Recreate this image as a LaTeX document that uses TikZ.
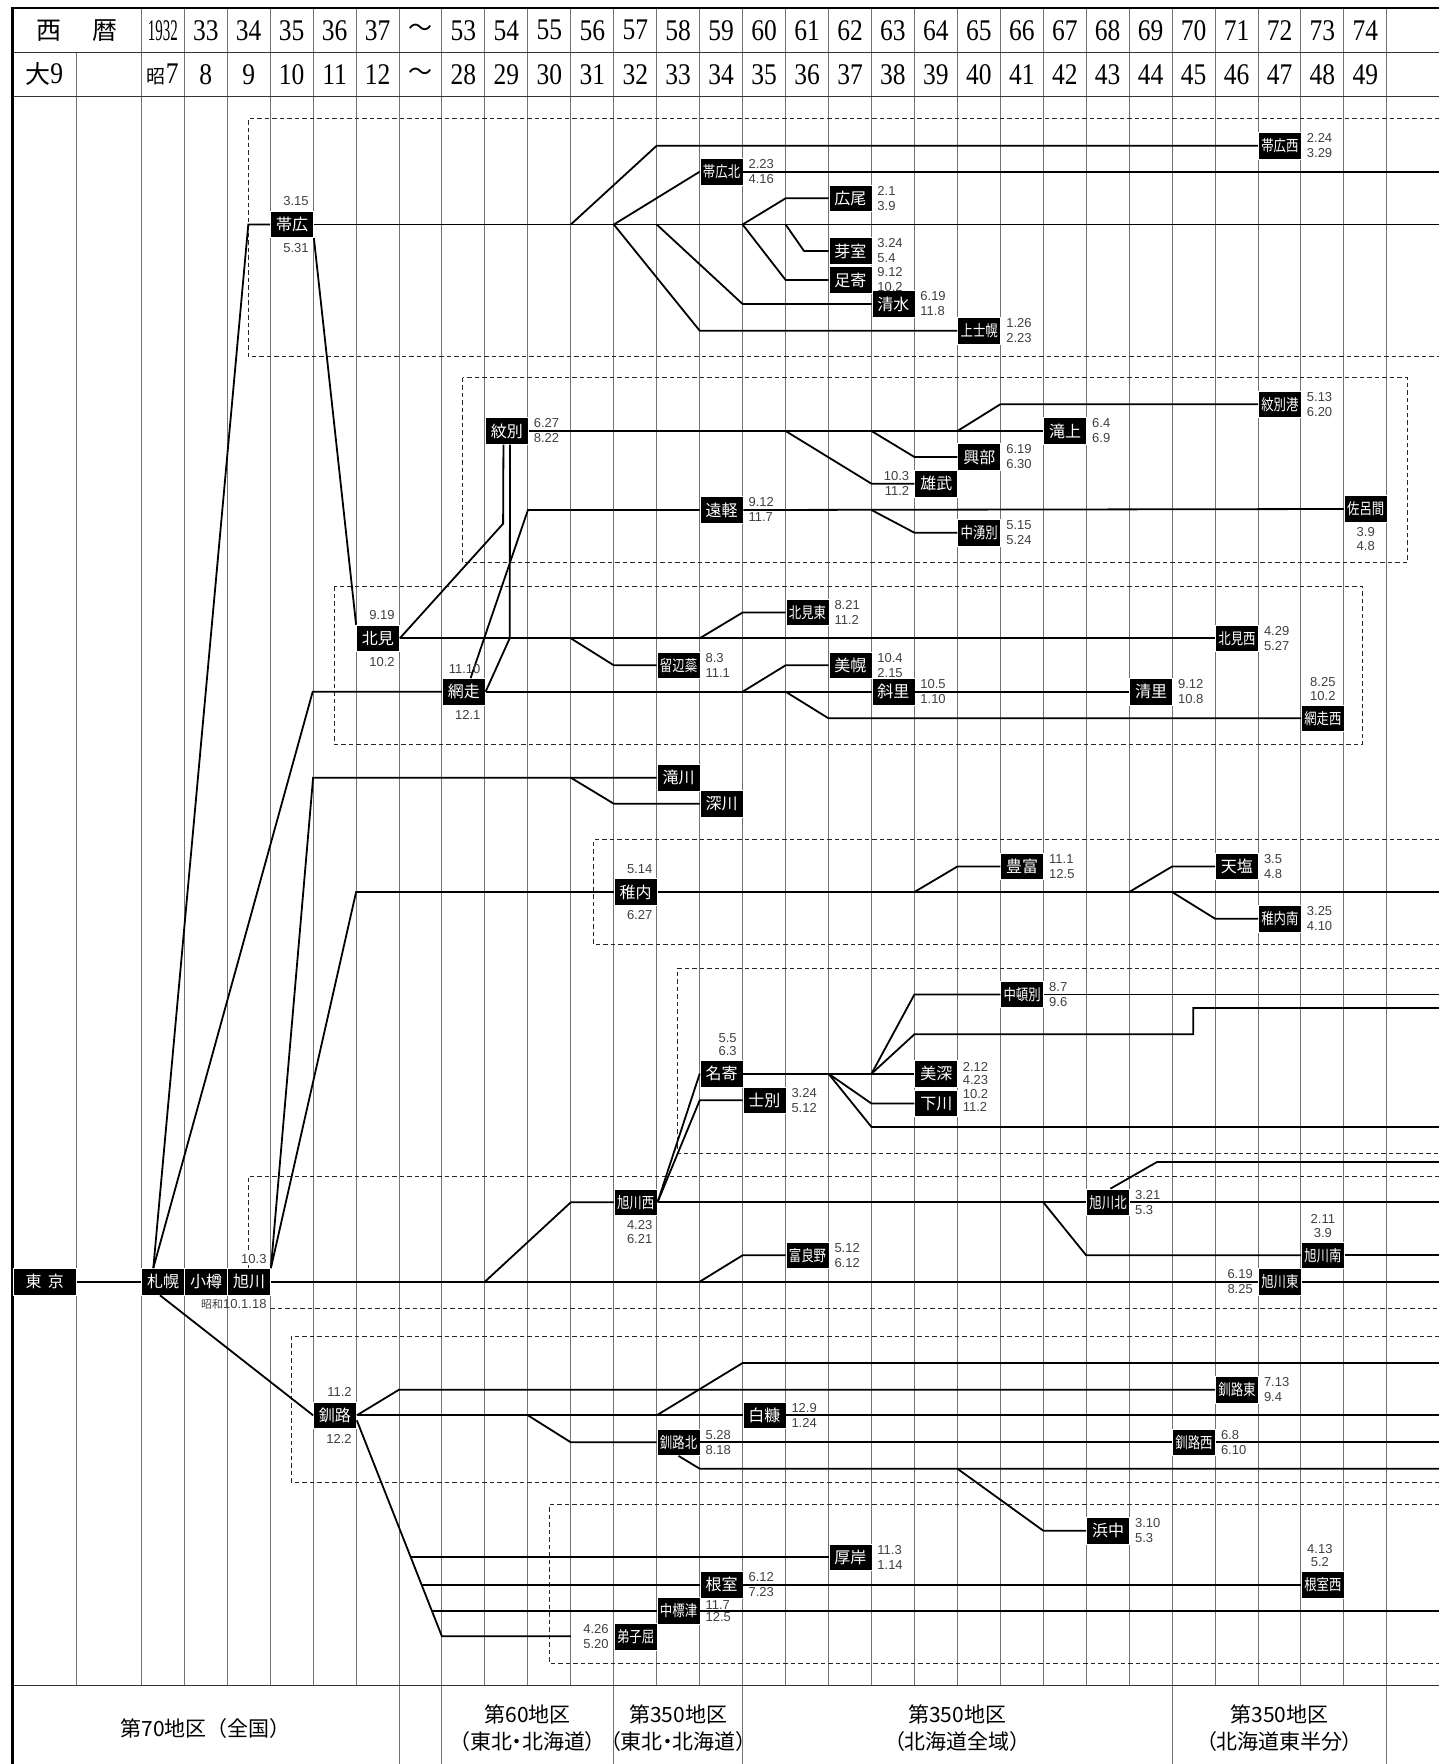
\documentclass[tikz,border=0pt]{standalone}
\usepackage{fontspec}
\usepackage{graphicx}
\newfontfamily\jp{Noto Sans CJK JP}
\newfontfamily\jpp[RawFeature=+palt]{Noto Sans CJK JP}
\newfontfamily\dtf{Liberation Sans}
\newfontfamily\hser{Liberation Serif}
\newcommand\tc[1]{\scalebox{0.8}[1]{\fontsize{15.5}{15.5}\selectfont #1}}
\newcommand\yr[1]{\scalebox{0.85}[1]{#1}}
\tikzset{
  gridline/.style={line width=1pt, black!55},
  conn/.style={line width=1.8pt, black},
  dsh/.style={line width=1pt, black!85, dash pattern=on 4.5pt off 3pt},
  stn/.style={fill=black, draw=white, line width=0.7pt, text=white, minimum width=43pt, minimum height=26.5pt, inner sep=0pt, anchor=west, font=\jp\fontsize{16}{16}\selectfont},
  dt/.style={font=\dtf\fontsize{13}{13}\selectfont, text=black!75, inner sep=0pt},
  hd/.style={font=\hser\fontsize{30}{30}\selectfont, inner sep=0pt},
  ft/.style={font=\jpp\fontsize{21}{26.6}\selectfont, align=center, inner sep=0pt},
}
% date helpers
\newcommand\dR[3]{\node[dt,anchor=west] (#1-a) at ([xshift=5pt,yshift=7.5pt]#1.east) {#2};\node[dt,anchor=west] (#1-b) at ([xshift=5pt,yshift=-7.5pt]#1.east) {#3};}
\newcommand\dL[3]{\node[dt,anchor=east] (#1-a) at ([xshift=-5pt,yshift=7.5pt]#1.west) {#2};\node[dt,anchor=east] (#1-b) at ([xshift=-5pt,yshift=-7.5pt]#1.west) {#3};}
\newcommand\dS[3]{\node[dt,anchor=east] (#1-a) at ([xshift=-5pt,yshift=23pt]#1.east) {#2};\node[dt,anchor=east] (#1-b) at ([xshift=-5pt,yshift=-23.5pt]#1.east) {#3};}
\newcommand\dA[4][0pt]{\node[dt] (#2-a) at ([xshift=#1,yshift=36pt]#2.center) {#3};\node[dt] (#2-b) at ([xshift=#1,yshift=22.5pt]#2.center) {#4};}
\newcommand\dB[4][0pt]{\node[dt] (#2-a) at ([xshift=#1,yshift=-23pt]#2.center) {#3};\node[dt] (#2-b) at ([xshift=#1,yshift=-37pt]#2.center) {#4};}
\begin{document}
\begin{tikzpicture}[x=1pt,y=-1pt]
\useasboundingbox (0,0) rectangle (1439,1764);
\fill[white] (0,0) rectangle (1439,1764);

% ---------- grid ----------
\foreach \i in {0,...,29} \draw[gridline] ({141.3+42.95*\i},8.3) -- ({141.3+42.95*\i},1685.7);
\draw[gridline] (76,52.3) -- (76,1685.7);
\foreach \x in {399.0,441.9,613.8,742.6,1172.1,1386.9} \draw[gridline] (\x,1685.7) -- (\x,1764);
\draw[line width=1pt, black!80] (12.7,52.3) -- (1439,52.3);
\draw[line width=1pt, black!80] (12.7,96.3) -- (1439,96.3);
\draw[line width=1pt, black!80] (12.7,1685.7) -- (1439,1685.7);
\draw[line width=2.2pt] (12.7,8.3) -- (1439,8.3);
\draw[line width=2.6pt] (12.7,7.2) -- (12.7,1764);

% ---------- header ----------
\node[hd] (h-sei) at (49,30.3) {\jp\fontsize{25}{25}\selectfont 西};
\node[hd] (h-reki) at (105,30.3) {\jp\fontsize{25}{25}\selectfont 暦};
\node[hd] (h-1932) at (162.8,30.3) {\scalebox{0.5}[1]{1932}};
\foreach \i in {1,...,5} {\pgfmathtruncatemacro\yy{32+\i}\node[hd] (ha\i) at ({162.8+42.95*\i},30.3) {\yr{\yy}};}
\foreach \i in {7,...,28} {\pgfmathtruncatemacro\yy{46+\i}\node[hd] (ha\i) at ({162.8+42.95*\i},30.3) {\yr{\yy}};}
\node[hd] (ha6) at ({162.8+42.95*6},30.3) {\jp\fontsize{24}{24}\selectfont ～};
\node[hd] (h-tai) at (44.3,74.3) {{\jp\fontsize{25}{25}\selectfont 大}\yr{9}};
\node[hd] (h-sho) at (162.8,74.3) {{\jp\fontsize{19}{19}\selectfont 昭}\yr{7}};
\foreach \i in {1,...,5} {\pgfmathtruncatemacro\yy{7+\i}\node[hd] (hb\i) at ({162.8+42.95*\i},74.3) {\yr{\yy}};}
\foreach \i in {7,...,28} {\pgfmathtruncatemacro\yy{21+\i}\node[hd] (hb\i) at ({162.8+42.95*\i},74.3) {\yr{\yy}};}
\node[hd] (hb6) at ({162.8+42.95*6},74.3) {\jp\fontsize{24}{24}\selectfont ～};

% ---------- footer ----------
\node[ft] (f1) at (205.7,1728) {\jp 第70地区（全国）};
\node[ft] (f2) at (527.8,1728) {第60地区\\（東北・北海道）};
\node[ft] (f3) at (678.2,1728) {第350地区\\（東北・北海道）};
\node[ft] (f4) at (957.3,1728) {第350地区\\（北海道全域）};
\node[ft] (f5) at (1279.5,1728) {第350地区\\（北海道東半分）};

% ---------- dashed groups ----------
\draw[dsh] (1439,118.3) -- (248.3,118.3) -- (248.3,356.7) -- (1439,356.7);
\draw[dsh] (462.7,377.7) rectangle (1407.3,562.7);
\draw[dsh] (334.3,586) rectangle (1362.3,744.3);
\draw[dsh] (1439,839.3) -- (593.7,839.3) -- (593.7,944.3) -- (1439,944.3);
\draw[dsh] (1439,968) -- (677.7,968) -- (677.7,1153) -- (1439,1153);
\draw[dsh] (1439,1176) -- (248.3,1176) -- (248.3,1250);
\draw[dsh] (248.3,1265) -- (248.3,1268.5);
\draw[dsh] (270.2,1308) -- (1439,1308);
\draw[dsh] (1439,1336.3) -- (291,1336.3) -- (291,1482) -- (1439,1482);
\draw[dsh] (1439,1504.7) -- (549,1504.7) -- (549,1663) -- (1439,1663);

% ---------- stations ----------
\node[stn, minimum width=63.3pt] (tokyo) at (12.7,1281.7) {東\hspace{0.4em}京};
\node[stn] (sapporo) at (141.3,1281.7) {札幌};
\node[stn] (otaru) at (184.3,1281.7) {小樽};
\node[stn] (asahikawa) at (227.2,1281.7) {旭川};
\node[stn] (obihiro) at (270.2,224.5) {帯広};
\node[stn] (kitami) at (356.1,638.3) {北見};
\node[stn] (abashiri) at (441.9,691.7) {網走};
\node[stn] (monbetsu) at (484.9,431) {紋別};
\node[stn] (kushiro) at (313.1,1415.3) {釧路};
\node[stn] (obihirokita) at (699.7,171.7) {\tc{帯広北}};
\node[stn] (obihironishi) at (1258.0,145.7) {\tc{帯広西}};
\node[stn] (hiroo) at (828.5,198.3) {広尾};
\node[stn] (memuro) at (828.5,251) {芽室};
\node[stn] (ashoro) at (828.5,280) {足寄};
\node[stn] (shimizu) at (871.5,304) {清水};
\node[stn] (kamishihoro) at (957.4,330.7) {\tc{上士幌}};
\node[stn] (takinoue) at (1043.3,431) {滝上};
\node[stn] (monbetsuko) at (1258.0,404.3) {\tc{紋別港}};
\node[stn] (okoppe) at (957.4,457) {興部};
\node[stn] (oumu) at (914.4,483.7) {雄武};
\node[stn] (engaru) at (699.7,510) {遠軽};
\node[stn] (nakayubetsu) at (957.4,532.7) {\tc{中湧別}};
\node[stn] (saroma) at (1343.9,509) {\tc{佐呂間}};
\node[stn] (kitamihigashi) at (785.6,612.5) {\tc{北見東}};
\node[stn] (rubeshibe) at (656.7,665.3) {\tc{留辺蘂}};
\node[stn] (bihoro) at (828.5,665.3) {美幌};
\node[stn] (shari) at (871.5,691.7) {斜里};
\node[stn] (kiyosato) at (1129.2,691.7) {清里};
\node[stn] (kitaminishi) at (1215.1,638.3) {\tc{北見西}};
\node[stn] (abashirinishi) at (1301.0,718.3) {\tc{網走西}};
\node[stn] (takikawa) at (656.7,777.7) {滝川};
\node[stn] (fukagawa) at (699.7,803.7) {深川};
\node[stn] (wakkanai) at (613.8,892) {稚内};
\node[stn] (toyotomi) at (1000.3,866.5) {豊富};
\node[stn] (teshio) at (1215.1,866.5) {天塩};
\node[stn] (wakkanaiminami) at (1258.0,918.7) {\tc{稚内南}};
\node[stn] (nakatonbetsu) at (1000.3,994.5) {\tc{中頓別}};
\node[stn] (nayoro) at (699.7,1073.7) {名寄};
\node[stn] (shibetsu) at (742.6,1100.3) {士別};
\node[stn] (bifuka) at (914.4,1073.7) {美深};
\node[stn] (shimokawa) at (914.4,1103.5) {下川};
\node[stn] (asahikawanishi) at (613.8,1202.3) {\tc{旭川西}};
\node[stn] (asahikawakita) at (1086.2,1202.3) {\tc{旭川北}};
\node[stn] (asahikawaminami) at (1301.0,1255.3) {\tc{旭川南}};
\node[stn] (asahikawahigashi) at (1258.0,1281.7) {\tc{旭川東}};
\node[stn] (furano) at (785.6,1255.3) {\tc{富良野}};
\node[stn] (shiranuka) at (742.6,1415.3) {白糠};
\node[stn] (kushirokita) at (656.7,1442.3) {\tc{釧路北}};
\node[stn] (kushirohigashi) at (1215.1,1389.7) {\tc{釧路東}};
\node[stn] (kushironishi) at (1172.1,1442.3) {\tc{釧路西}};
\node[stn] (hamanaka) at (1086.2,1530.7) {浜中};
\node[stn] (akkeshi) at (828.5,1557.3) {厚岸};
\node[stn] (nemuro) at (699.7,1584.7) {根室};
\node[stn] (nemuronishi) at (1301.0,1584.7) {\tc{根室西}};
\node[stn] (nakashibetsu) at (656.7,1610.7) {\tc{中標津}};
\node[stn] (teshikaga) at (613.8,1637) {\tc{弟子屈}};

% ---------- connectors ----------
\draw[conn] (tokyo.east) -- (sapporo.west);
\draw[conn] (obihiro.west) -- (248.3,224.5) -- ([xshift=12pt]sapporo.north west);
\draw[conn] ([xshift=12pt]sapporo.north west) -- (312.7,691.7) -- (abashiri.west);
\draw[conn] (asahikawa.north east) -- (313.1,777.7) -- (takikawa.west);
\draw[conn] (asahikawa.north east) -- (356.1,892) -- (wakkanai.west);
\draw[conn] (obihiro.south east) -- (kitami.north west);
% obihiro group
\draw[conn] (obihiro.east) -- (1439,224.5);
\draw[conn] (570.8,224.5) -- (656.7,145.7) -- (obihironishi.west);
\draw[conn] (613.8,224.5) -- (obihirokita.west);
\draw[conn] (obihirokita.east) -- (1439,171.7);
\draw[conn] (613.8,224.5) -- (699.7,330.7) -- (kamishihoro.west);
\draw[conn] (656.7,224.5) -- (742.6,304) -- (shimizu.west);
\draw[conn] (742.6,224.5) -- (785.6,198.3) -- (hiroo.west);
\draw[conn] (742.6,224.5) -- (785.6,280) -- (ashoro.west);
\draw[conn] (785.6,224.5) -- (804,251) -- (memuro.west);
% monbetsu group
\draw[conn] (monbetsu.east) -- (takinoue.west);
\draw[conn] (957.4,431) -- (1000.3,404.3) -- (monbetsuko.west);
\draw[conn] (871.5,431) -- (914.4,457) -- (okoppe.west);
\draw[conn] (785.6,431) -- (871.5,483.7) -- (oumu.west);
\draw[conn] (kitami.east) -- (503.1,523.7) -- ([xshift=-3.3pt]monbetsu.south);
\draw[conn] ([xshift=3.3pt]monbetsu.south) -- (509.7,638.3) -- (abashiri.east);
\draw[conn] ([xshift=-15pt]abashiri.north east) -- (527.9,510) -- (engaru.west);
\draw[conn] (engaru.east) -- (saroma.west);
\draw[conn] (871.5,510) -- (914.4,532.7) -- (nakayubetsu.west);
% kitami group
\draw[conn] (kitami.east) -- (kitaminishi.west);
\draw[conn] (570.8,638.3) -- (613.8,665.3) -- (rubeshibe.west);
\draw[conn] (699.7,638.3) -- (742.6,612.5) -- (kitamihigashi.west);
\draw[conn] (abashiri.east) -- (shari.west);
\draw[conn] (shari.east) -- (kiyosato.west);
\draw[conn] (742.6,691.7) -- (785.6,665.3) -- (bihoro.west);
\draw[conn] (785.6,691.7) -- (828.5,718.3) -- (abashirinishi.west);
% takikawa
\draw[conn] (570.8,777.7) -- (613.8,803.7) -- (fukagawa.west);
% wakkanai group
\draw[conn] (wakkanai.east) -- (1439,892);
\draw[conn] (914.4,892) -- (957.4,866.5) -- (toyotomi.west);
\draw[conn] (1129.2,892) -- (1172.1,866.5) -- (teshio.west);
\draw[conn] (1172.1,892) -- (1215.1,918.7) -- (wakkanaiminami.west);
% asahikawa group
\draw[conn] (asahikawa.east) -- (asahikawahigashi.west);
\draw[conn] (asahikawahigashi.east) -- (1439,1281.7);
\draw[conn] (484.9,1281.7) -- (570.8,1202.3) -- (asahikawanishi.west);
\draw[conn] (asahikawanishi.east) -- (asahikawakita.west);
\draw[conn] (asahikawakita.east) -- (1439,1202.3);
\draw[conn] ([xshift=2.3pt]asahikawakita.north) -- (1157,1162) -- (1439,1162);
\draw[conn] (1043.3,1202.3) -- (1086.2,1255.3) -- (asahikawaminami.west);
\draw[conn] (asahikawaminami.east) -- (1439,1255.3);
\draw[conn] (699.7,1281.7) -- (742.6,1255.3) -- (furano.west);
% nayoro group
\draw[conn] (asahikawanishi.east) -- (nayoro.west);
\draw[conn] (asahikawanishi.east) -- (699.7,1100.3) -- (shibetsu.west);
\draw[conn] (nayoro.east) -- (bifuka.west);
\draw[conn] (828.5,1073.7) -- (871.5,1103.5) -- (shimokawa.west);
\draw[conn] (828.5,1073.7) -- (871.5,1127) -- (1439,1127);
\draw[conn] (871.5,1073.7) -- (914.4,994.5) -- (nakatonbetsu.west);
\draw[conn] (nakatonbetsu.east) -- (1439,994.5);
\draw[conn] (871.5,1073.7) -- (914.4,1034.3) -- (1193.3,1034.3) -- (1193.3,1008) -- (1439,1008);
% kushiro group
\draw[conn] ([xshift=18.7pt]sapporo.south west) -- (kushiro.west);
\draw[conn] (kushiro.east) -- (shiranuka.west);
\draw[conn] (shiranuka.east) -- (1439,1415.3);
\draw[conn] (kushiro.east) -- (399,1389.7) -- (kushirohigashi.west);
\draw[conn] (656.7,1415.3) -- (742.6,1363) -- (1439,1363);
\draw[conn] (527.9,1415.3) -- (570.8,1442.3) -- (kushirokita.west);
\draw[conn] (kushirokita.east) -- (kushironishi.west);
\draw[conn] (kushironishi.east) -- (1439,1442.3);
\draw[conn] (kushirokita.south) -- (699.7,1468.7) -- (1439,1468.7);
\draw[conn] (957.4,1468.7) -- (1043.3,1530.7) -- (hamanaka.west);
% nemuro group
\draw[conn] ([yshift=-5pt]kushiro.east) -- (441.9,1636.3) -- (570.8,1636.3);
\draw[conn] (410.4,1557.3) -- (akkeshi.west);
\draw[conn] (421.3,1584.7) -- (nemuro.west);
\draw[conn] (nemuro.east) -- (nemuronishi.west);
\draw[conn] (431.7,1610.7) -- (nakashibetsu.west);
\draw[conn] (nakashibetsu.east) -- (1439,1610.7);

% ---------- dates ----------
\node[dt,anchor=east] (asahikawa-a) at (266.7,1259.3) {10.3};
\node[dt,anchor=east] (asahikawa-b) at (266.7,1304.7) {{\jp\fontsize{11}{11}\selectfont 昭和}10.1.18};
\dS{obihiro}{3.15}{5.31}
\dS{kitami}{9.19}{10.2}
\dS{abashiri}{11.10}{12.1}
\dS{wakkanai}{5.14}{6.27}
\dS{kushiro}{11.2}{12.2}
\dR{monbetsu}{6.27}{8.22}
\dR{obihirokita}{2.23}{4.16}
\dR{obihironishi}{2.24}{3.29}
\dR{hiroo}{2.1}{3.9}
\dR{memuro}{3.24}{5.4}
\dR{ashoro}{9.12}{10.2}
\dR{shimizu}{6.19}{11.8}
\dR{kamishihoro}{1.26}{2.23}
\dR{takinoue}{6.4}{6.9}
\dR{monbetsuko}{5.13}{6.20}
\dR{okoppe}{6.19}{6.30}
\dL{oumu}{10.3}{11.2}
\dR{engaru}{9.12}{11.7}
\dR{nakayubetsu}{5.15}{5.24}
\dB{saroma}{3.9}{4.8}
\dR{kitamihigashi}{8.21}{11.2}
\dR{rubeshibe}{8.3}{11.1}
\dR{bihoro}{10.4}{2.15}
\dR{shari}{10.5}{1.10}
\dR{kiyosato}{9.12}{10.8}
\dR{kitaminishi}{4.29}{5.27}
\dA{abashirinishi}{8.25}{10.2}
\dR{toyotomi}{11.1}{12.5}
\dR{teshio}{3.5}{4.8}
\dR{wakkanaiminami}{3.25}{4.10}
\dR{nakatonbetsu}{8.7}{9.6}
\dA[6pt]{nayoro}{5.5}{6.3}
\dR{shibetsu}{3.24}{5.12}
\node[dt,anchor=west] (bifuka-a) at ([xshift=4.5pt,yshift=6.7pt]bifuka.east) {2.12};
\node[dt,anchor=west] (bifuka-b) at ([xshift=4.5pt,yshift=-6.6pt]bifuka.east) {4.23};
\node[dt,anchor=west] (shimokawa-a) at ([xshift=4.5pt,yshift=-20pt]bifuka.east) {10.2};
\node[dt,anchor=west] (shimokawa-b) at ([xshift=4.5pt,yshift=-33.3pt]bifuka.east) {11.2};
\dB[4pt]{asahikawanishi}{4.23}{6.21}
\dR{asahikawakita}{3.21}{5.3}
\dA{asahikawaminami}{2.11}{3.9}
\dL{asahikawahigashi}{6.19}{8.25}
\dR{furano}{5.12}{6.12}
\dR{shiranuka}{12.9}{1.24}
\dR{kushirokita}{5.28}{8.18}
\dR{kushirohigashi}{7.13}{9.4}
\dR{kushironishi}{6.8}{6.10}
\dR{hamanaka}{3.10}{5.3}
\dR{akkeshi}{11.3}{1.14}
\dR{nemuro}{6.12}{7.23}
\dA[-3pt]{nemuronishi}{4.13}{5.2}
\node[dt,anchor=west] (nakashibetsu-a) at ([xshift=5pt,yshift=5.8pt]nakashibetsu.east) {11.7};
\node[dt,anchor=west] (nakashibetsu-b) at ([xshift=5pt,yshift=-6.6pt]nakashibetsu.east) {12.5};
\dL{teshikaga}{4.26}{5.20}
\end{tikzpicture}
\end{document}
